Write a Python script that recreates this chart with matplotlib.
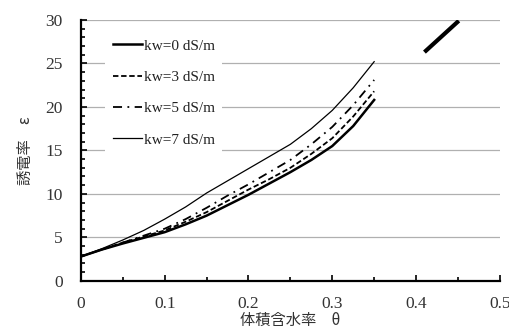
import matplotlib
matplotlib.use("Agg")
import matplotlib.pyplot as plt
from matplotlib.ticker import MultipleLocator

theta = [0.0, 0.025, 0.05, 0.075, 0.10, 0.125, 0.15, 0.175, 0.20, 0.225, 0.25, 0.275, 0.30, 0.325, 0.35]
eps_kw0 = [2.8, 3.6, 4.3, 4.95, 5.6, 6.5, 7.5, 8.7, 9.9, 11.2, 12.5, 13.9, 15.5, 17.8, 20.8]
eps_kw3 = [2.8, 3.6, 4.4, 5.1, 5.8, 6.8, 7.9, 9.2, 10.5, 11.7, 13.0, 14.6, 16.4, 18.9, 21.8]
eps_kw5 = [2.8, 3.6, 4.4, 5.2, 6.0, 7.1, 8.4, 9.8, 11.1, 12.5, 13.9, 15.7, 17.7, 20.2, 23.1]
eps_kw7 = [2.8, 3.7, 4.7, 5.8, 7.1, 8.5, 10.1, 11.5, 12.9, 14.3, 15.7, 17.5, 19.6, 22.2, 25.2]
labels = ["kw=0 dS/m", "kw=3 dS/m", "kw=5 dS/m", "kw=7 dS/m"]
seg_theta = [0.41, 0.451]
seg_eps = [26.3, 29.9]
xtick_labels = ["0", "0.1", "0.2", "0.3", "0.4", "0.5"]

serif = ["Liberation Serif", "DejaVu Serif"]
cjk = ["Noto Sans CJK JP", "DejaVu Sans"]
txt = "#333333"

fig = plt.figure(figsize=(5.09, 3.32), dpi=100)
ax = fig.add_axes([0.159, 0.154, 0.823, 0.786])

ax.grid(axis="y", color="#b0b0b0", lw=0.9, zorder=0)
ax.set_axisbelow(True)

l0, = ax.plot(theta, eps_kw0, color="black", lw=1.8, ls="-", label=labels[0])
l3, = ax.plot(theta, eps_kw3, color="black", lw=1.3, ls=(0, (3, 1.5)), label=labels[1])
l5, = ax.plot(theta, eps_kw5, color="black", lw=1.3, ls=(0, (5, 3, 1, 3)), label=labels[2])
l7, = ax.plot(theta, eps_kw7, color="black", lw=0.9, ls="-", label=labels[3])
ax.plot(seg_theta, seg_eps, color="black", lw=3.0, solid_capstyle="butt")

ax.set_xlim(0, 0.5)
ax.set_ylim(0, 30)
ax.set_xticks([0, 0.1, 0.2, 0.3, 0.4, 0.5])
ax.set_xticklabels(xtick_labels)
ax.xaxis.set_minor_locator(MultipleLocator(0.05))
ax.yaxis.set_major_locator(MultipleLocator(5))
ax.yaxis.set_minor_locator(MultipleLocator(1))

ax.tick_params(which="both", direction="in", color="black", width=1.2)
ax.tick_params(which="major", length=4, labelsize=12.5)
ax.tick_params(which="minor", length=3)
ax.tick_params(axis="x", pad=11)
ax.tick_params(axis="y", pad=13)
for lab in ax.get_xticklabels() + ax.get_yticklabels():
    lab.set_fontfamily(serif)
    lab.set_color(txt)

for s in ["top", "right"]:
    ax.spines[s].set_visible(False)
for s in ["left", "bottom"]:
    ax.spines[s].set_linewidth(1.6)

ax.set_xlabel("体積含水率　θ", fontfamily=cjk, fontsize=11, labelpad=0, color=txt)
ax.set_ylabel("誘電率　ε", fontfamily=cjk, fontsize=11, labelpad=8, color=txt)

leg = ax.legend(handles=[l0, l3, l5, l7], loc="upper left", bbox_to_anchor=(0.040, 0.985),
                prop={"family": serif, "size": 11}, frameon=True, fancybox=False,
                edgecolor="none", facecolor="white", framealpha=1,
                handlelength=1.9, handletextpad=0.1, labelspacing=1.15, borderpad=0.5)
for t in leg.get_texts():
    t.set_color("#222222")

fig.savefig("out.png", dpi=100)
